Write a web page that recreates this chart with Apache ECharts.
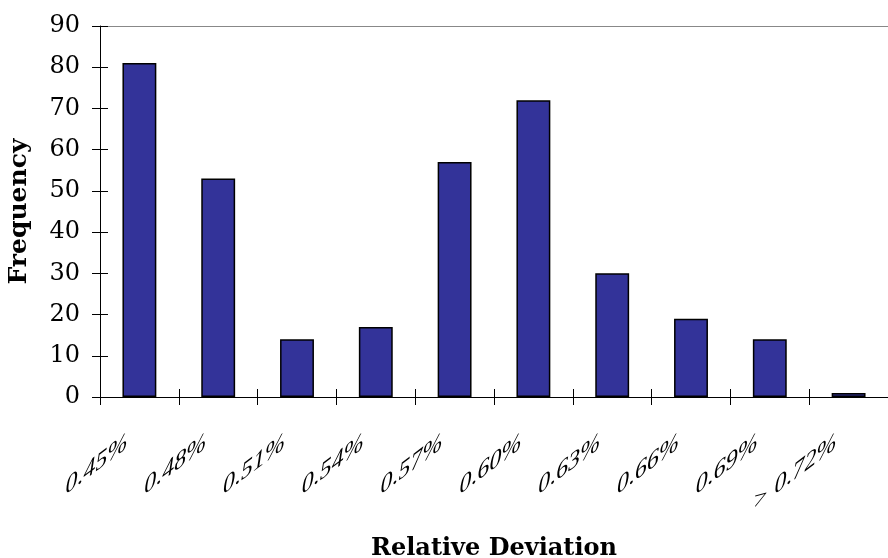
<!DOCTYPE html>
<html><head><meta charset="utf-8">
<script src="https://cdn.jsdelivr.net/npm/echarts@6/dist/echarts.min.js"></script>
<style>html,body{margin:0;padding:0;background:#fff}#c{width:888px;height:558px}</style>
</head><body><div id="c"></div>
<script>
const categories = ['0.45%','0.48%','0.51%','0.54%','0.57%','0.60%','0.63%','0.66%','0.69%','> 0.72%'];
const frequency = [81, 53, 14, 17, 57, 72, 30, 19, 14, 1];
const yMin = 0, yMax = 90, yStep = 10;

const chart = echarts.init(document.getElementById('c'), null, {renderer:'canvas'});
const serif = "'DejaVu Serif', serif";
chart.setOption({
  animation:false,
  backgroundColor:'#fff',
  grid:{left:100, right:0, top:26, bottom:161, containLabel:false, outerBoundsMode:'none'},
  xAxis:[
    {type:'category', data:categories, position:'bottom',
     axisLine:{lineStyle:{color:'#000', width:1}},
     axisTick:{show:false},
     axisLabel:{show:false},
     name:'Relative Deviation', nameLocation:'middle', nameGap:140,
     nameTextStyle:{fontFamily:serif, fontWeight:'bold', fontSize:24, color:'#000'}},
    {type:'category', data:categories, position:'bottom', offset:-8,
     axisLine:{show:false},
     axisTick:{show:true, length:16, lineStyle:{color:'#000'}},
     axisLabel:{show:false}},
    {type:'category', data:categories, position:'top',
     axisLine:{lineStyle:{color:'#888', width:1}},
     axisTick:{show:false}, axisLabel:{show:false}}
  ],
  yAxis:[
    {type:'value', min:yMin, max:yMax, interval:yStep, position:'left',
     axisLine:{show:true, lineStyle:{color:'#000', width:1}},
     axisTick:{show:false}, splitLine:{show:false},
     axisLabel:{margin:20, fontFamily:serif, fontSize:24, color:'#000'},
     name:'Frequency', nameLocation:'middle', nameGap:68, nameRotate:90,
     nameTextStyle:{fontFamily:serif, fontWeight:'bold', fontSize:25, color:'#000'}},
    {type:'value', min:yMin, max:yMax, interval:yStep, position:'left', offset:-8,
     axisLine:{show:false}, splitLine:{show:false},
     axisTick:{show:true, length:16, lineStyle:{color:'#000'}},
     axisLabel:{show:false}}
  ],
  series:[{type:'bar', data:frequency, xAxisIndex:0, yAxisIndex:0, barWidth:'43%',
    itemStyle:{color:'#333399', borderColor:'#000', borderWidth:1.5}}]
});

// Slanted (sheared) category labels, positioned from the category axis scale
const zr = chart.getZr();
categories.forEach(function(cat, i){
  const p = chart.convertToPixel({xAxisIndex:0, yAxisIndex:0}, [i, yMin]);
  const t = new echarts.graphic.Text({
    x: p[0] - 12, y: p[1] + 44,
    skewY: Math.atan(0.76),
    style:{text:cat, fill:'#000', align:'right', verticalAlign:'middle',
      font:"italic 24px 'Liberation Serif', serif"},
    z: 100
  });
  zr.add(t);
});
</script></body></html>
